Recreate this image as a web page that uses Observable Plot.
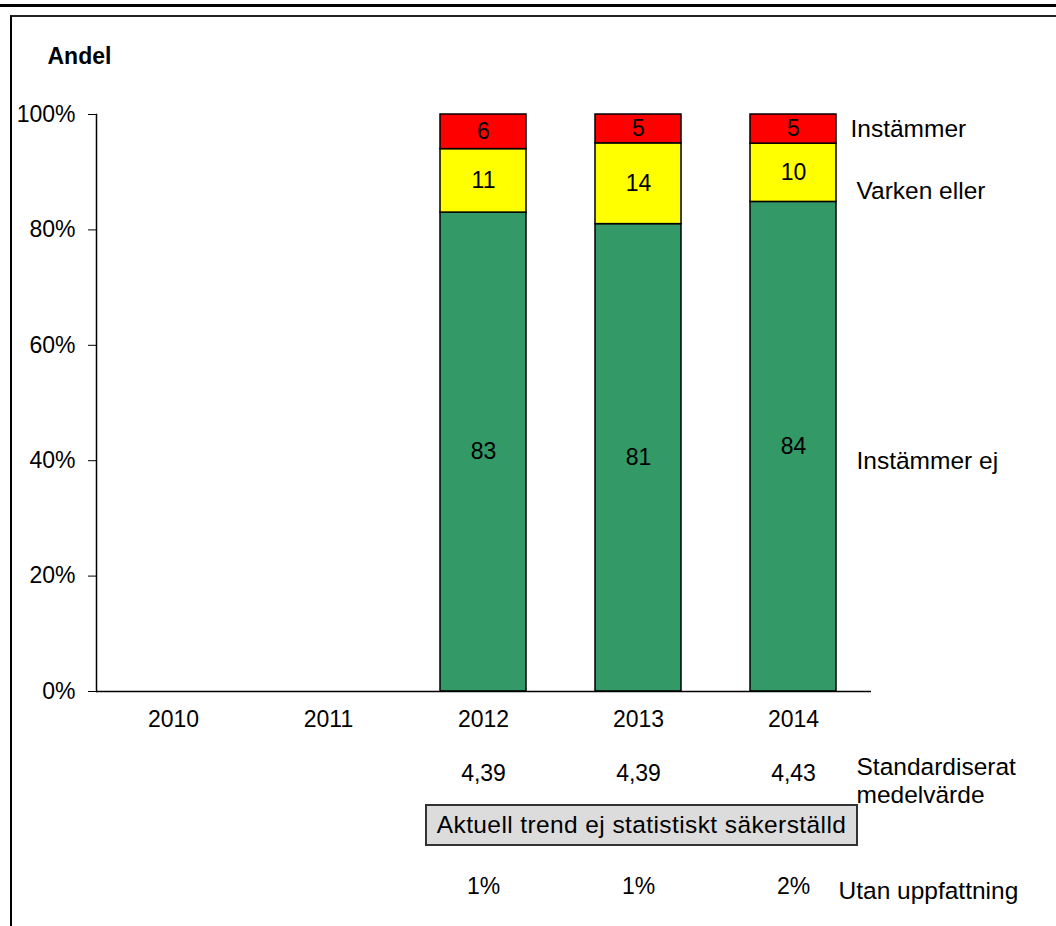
<!DOCTYPE html>
<html><head><meta charset="utf-8">
<script src="https://cdn.jsdelivr.net/npm/d3@7"></script>
<script src="https://cdn.jsdelivr.net/npm/@observablehq/plot@0.6"></script>
<style>
html,body{margin:0;padding:0;background:#fff;}
#wrap{position:relative;width:1056px;height:926px;overflow:hidden;font-family:"Liberation Sans",Arial,sans-serif;}
#topline{position:absolute;left:0;top:4px;width:1056px;height:3px;background:#000;}
#frame{position:absolute;left:10px;top:15px;right:-5px;bottom:-5px;border-left:2px solid #000;border-top:2px solid #222;}
#chart{position:absolute;left:0;top:0;}
#trend{position:absolute;left:425px;top:804px;width:433px;height:42px;box-sizing:border-box;border:2px solid #333;background:#dcdcdc;font-size:24.5px;display:flex;align-items:center;justify-content:center;color:#000;letter-spacing:0.4px;white-space:nowrap;}
</style></head><body>
<div id="wrap"><div id="topline"></div><div id="frame"></div><div id="chart"></div><div id="trend"></div></div>
<script>
const years = ["2010", "2011", "2012", "2013", "2014"];
const dataYears = ["2012", "2013", "2014"];
const series = ["Instämmer ej", "Varken eller", "Instämmer"];
const instammerEj = [83, 81, 84];
const varkenEller = [11, 14, 10];
const instammer = [6, 5, 5];
const means = ["4,39", "4,39", "4,43"];
const utan = ["1%", "1%", "2%"];
const yTicks = [0, 20, 40, 60, 80, 100];
const colors = ["#339966", "#FFFF00", "#FF0000"];
const meanLabel = ["Standardiserat", "medelvärde"];
const utanLabel = "Utan uppfattning";
const trendText = "Aktuell trend ej statistiskt säkerställd";
const yLabel = "Andel";

const valuesBySeries = [instammerEj, varkenEller, instammer];
const rows = [];
dataYears.forEach((yr, i) => {
  series.forEach((s, j) => rows.push({year: yr, series: s, value: valuesBySeries[j][i]}));
});
const lastYear = dataYears[dataYears.length - 1];
const stackOpts = {x: "year", y: "value", z: "series", order: series, offset: "normalize"};

// series labels at right: dx/dy tweaks per series
const seriesLabelOffsets = [
  {dx: 63, dy: 14},
  {dx: 63, dy: 18},
  {dx: 57, dy: 0}
];

const FS = 23;
const FW = 24.5;
const chart = Plot.plot({
  width: 1056,
  height: 926,
  marginLeft: 96,
  marginRight: 185,
  marginTop: 114,
  marginBottom: 235,
  style: {fontFamily: "'Liberation Sans', Arial, sans-serif", fontSize: FS + "px", color: "#000", background: "transparent", overflow: "visible"},
  x: {domain: years, paddingInner: 0.445, paddingOuter: 0.2225},
  y: {domain: [0, 1]},
  color: {domain: series, range: colors},
  marks: [
    Plot.barY(rows, Plot.stackY({...stackOpts, fill: "series", stroke: "#000", strokeWidth: 1.5})),
    Plot.text(rows, Plot.stackY({...stackOpts, text: d => String(d.value), fill: "#000", fontSize: FS})),
    ...series.map((s, j) => Plot.text(rows, Plot.stackY({
      ...stackOpts,
      text: d => (d.year === lastYear && d.series === s) ? s : null,
      textAnchor: "start", fill: "#000", fontSize: FW,
      dx: seriesLabelOffsets[j].dx, dy: seriesLabelOffsets[j].dy
    }))),
    Plot.axisY({ticks: yTicks.map(v => v / 100), tickFormat: d => Math.round(d * 100) + "%", tickSize: 8, tickPadding: 13, label: null, fontSize: FS, stroke: "#000"}),
    Plot.axisX({tickSize: 0, tickPadding: 19, label: null, fontSize: FS}),
    Plot.frame({anchor: "left", stroke: "#000", strokeWidth: 1.5}),
    Plot.ruleY([0], {stroke: "#000", strokeWidth: 1.5}),
    Plot.text([yLabel], {frameAnchor: "top-left", textAnchor: "start", dx: -49, dy: -67, fontWeight: "bold", fontSize: FS}),
    Plot.text(dataYears, {x: d => d, text: (d, i) => means[i], frameAnchor: "bottom", dy: 89, fontSize: FS}),
    Plot.text([meanLabel.join("\n")], {frameAnchor: "bottom-right", textAnchor: "start", dx: -15, dy: 111, lineHeight: 28 / FW, fontSize: FW}),
    Plot.text(dataYears, {x: d => d, text: (d, i) => utan[i], frameAnchor: "bottom", dy: 202, fontSize: FS}),
    Plot.text([utanLabel], {frameAnchor: "bottom-right", textAnchor: "start", dx: -33, dy: 207, fontSize: FW})
  ]
});
document.getElementById("chart").appendChild(chart);
document.getElementById("trend").textContent = trendText;
</script>
</body></html>
